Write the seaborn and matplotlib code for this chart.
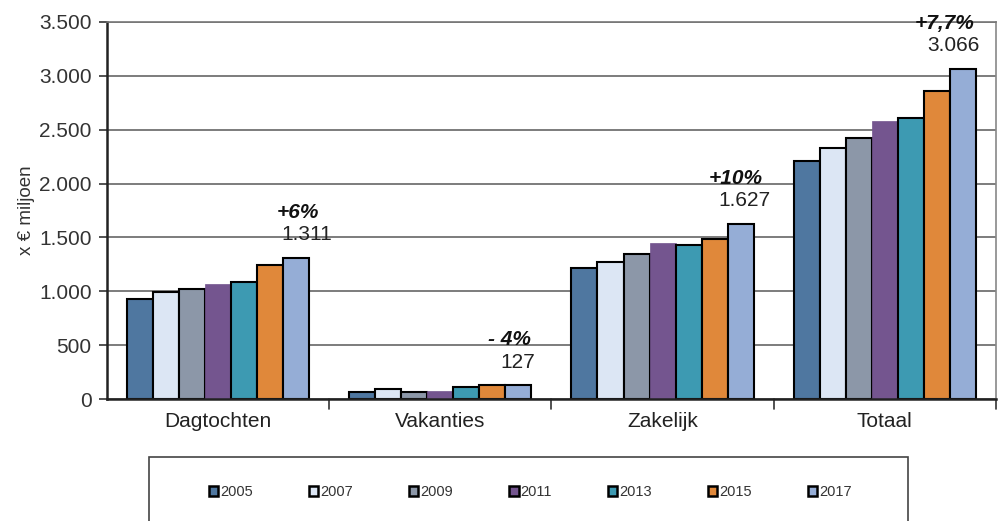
import matplotlib
matplotlib.use("Agg")
import matplotlib.pyplot as plt
import seaborn as sns
import pandas as pd
from matplotlib.patches import Rectangle

categories = ["Dagtochten", "Vakanties", "Zakelijk", "Totaal"]
years = ["2005", "2007", "2009", "2011", "2013", "2015", "2017"]
dagtochten = [925, 990, 1018, 1065, 1086, 1244, 1311]
vakanties = [65, 90, 62, 74, 111, 132, 127]
zakelijk = [1219, 1275, 1349, 1451, 1430, 1482, 1627]
totaal = [2210, 2333, 2420, 2583, 2611, 2859, 3066]
pct_labels = ["+6%", "- 4%", "+10%", "+7,7%"]
value_labels = ["1.311", "127", "1.627", "3.066"]
colors = ["#4F77A0", "#DCE6F4", "#8C97A8", "#74558F", "#3D9AB2", "#E0883A", "#95ADD6"]

series = [dagtochten, vakanties, zakelijk, totaal]
rows = []
for cat, vals in zip(categories, series):
    for yr, v in zip(years, vals):
        rows.append({"cat": cat, "year": yr, "value": v})
df = pd.DataFrame(rows)

sns.set_style("white")
plt.rcParams["font.family"] = ["Liberation Sans", "DejaVu Sans"]

fig = plt.figure(figsize=(9.99, 5.21), dpi=100)
ax = fig.add_axes([0.107, 0.234, 0.890, 0.724])

sns.barplot(data=df, x="cat", y="value", hue="year", palette=colors,
            width=0.82, gap=0, edgecolor="black", linewidth=1.5,
            ax=ax, legend=True, saturation=1)

for i, cont in enumerate(ax.containers):
    if years[i] == "2011":
        for p in cont:
            p.set_edgecolor(p.get_facecolor())
            p.set_linewidth(0.5)

ax.set_ylim(0, 3500)
ax.set_xlim(-0.5, 3.5)
yt = list(range(0, 3501, 500))
ax.set_yticks(yt)
ax.set_yticklabels([f"{v:,}".replace(",", ".") for v in yt], fontsize=15, color="#333333")
ax.set_xticks(range(4))
ax.set_xticklabels(categories, fontsize=15, color="#222222")
ax.tick_params(axis="x", length=0, pad=9)
ax.tick_params(axis="y", length=6, width=1.2, direction="out", color="#333333", left=True, pad=5)
for b in [0.5, 1.5, 2.5, 3.5]:
    ax.plot([b, b], [0, -0.025], transform=ax.get_xaxis_transform(), color="#333333",
            lw=1.2, clip_on=False)
ax.set_xlabel("")
ax.set_ylabel("x € miljoen", fontsize=13.5, color="#333333", labelpad=3)

ax.yaxis.grid(True, color="#666666", linewidth=1.2)
ax.set_axisbelow(True)
for s in ["left", "bottom"]:
    ax.spines[s].set_color("#222222")
    ax.spines[s].set_linewidth(1.8)
ax.spines["right"].set_color("#888888")
ax.spines["right"].set_linewidth(1.2)
ax.spines["top"].set_color("#777777")
ax.spines["top"].set_linewidth(1.2)

offsets = [0.40, 0.35, 0.37, 0.31]
for i, cat in enumerate(categories):
    top = series[i][-1]
    ax.annotate(value_labels[i], (i + offsets[i], top), xytext=(0, 10),
                textcoords="offset points", ha="center", va="bottom",
                fontsize=15, color="#222222", annotation_clip=False)
    ax.annotate(pct_labels[i], (i + offsets[i] - 0.04, top), xytext=(0, 26),
                textcoords="offset points", ha="center", va="bottom",
                fontsize=15, fontweight="bold", fontstyle="italic",
                color="#111111", annotation_clip=False)

handles, labels = ax.get_legend_handles_labels()
ax.get_legend().remove()
for h in handles:
    h.set_linewidth(1.8)
fig.patches.append(Rectangle((0.149, -0.05), 0.760, 0.173, transform=fig.transFigure,
                             fill=False, edgecolor="#444444", linewidth=1.2))
leg = fig.legend(handles, labels, loc="center", bbox_to_anchor=(0.531, 0.055),
                 ncol=7, frameon=False, fontsize=10.5, handlelength=0.65,
                 handleheight=0.65, handletextpad=0.15, columnspacing=3.82)
for t in leg.get_texts():
    t.set_color("#333333")

fig.savefig("out.png", dpi=100)
